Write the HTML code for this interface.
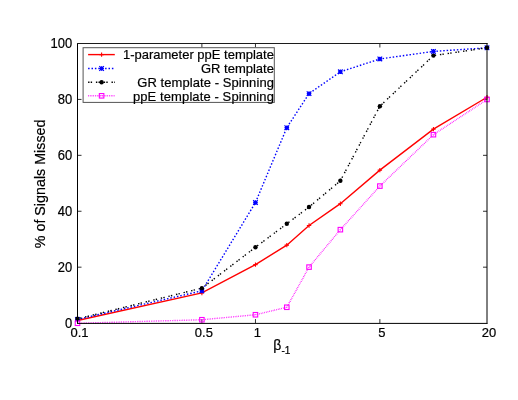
<!DOCTYPE html><html><head><meta charset="utf-8"><title>chart</title>
<style>html,body{margin:0;padding:0;background:#fff}svg{display:block;will-change:transform}text{font-family:"Liberation Sans",sans-serif;fill:#000;stroke:#000;stroke-width:0.2px}</style></head><body>
<svg width="518" height="400" viewBox="0 0 518 400">
<rect width="518" height="400" fill="#fff"/>
<path d="M201.89 323.1V319.1M201.89 43.5V47.5M255.46 323.1V319.1M255.46 43.5V47.5M379.86 323.1V319.1M379.86 43.5V47.5M77.5 267.18H81.5M487.0 267.18H483.0M77.5 211.26H81.5M487.0 211.26H483.0M77.5 155.34H81.5M487.0 155.34H483.0M77.5 99.42H81.5M487.0 99.42H483.0" stroke="#1a1a1a" stroke-width="0.9" fill="none"/>
<polyline points="77.50,320.48 201.89,292.96 255.46,264.60 286.80,245.15 309.04,225.48 340.37,203.69 379.86,170.16 433.43,129.09 487.00,97.24" fill="none" stroke="#ff0000" stroke-width="1.4"/>
<polyline points="77.50,319.36 201.89,290.86 255.46,202.57 286.80,127.69 309.04,93.60 340.37,71.81 379.86,58.96 433.43,51.41 487.00,47.78" fill="none" stroke="#0000ff" stroke-width="1.4" stroke-dasharray="1.5 1.9"/>
<polyline points="77.50,318.80 201.89,288.15 255.46,247.27 286.80,223.80 309.04,207.04 340.37,180.78 379.86,106.18 433.43,55.61 487.00,47.78" fill="none" stroke="#000000" stroke-width="1.4" stroke-dasharray="1.4 1.2 1.4 3.8"/>
<polyline points="77.50,323.27 201.89,319.75 255.46,314.75 286.80,307.26 309.04,267.11 340.37,229.67 379.86,186.09 433.43,134.68 487.00,99.47" fill="none" stroke="#ff00ff" stroke-width="1.4" stroke-dasharray="0.7 1.05"/>
<path d="M75.30 320.48H79.70M77.50 318.28V322.68" stroke="#ff0000" stroke-width="1.1" fill="none"/>
<path d="M199.69 292.96H204.09M201.89 290.76V295.16" stroke="#ff0000" stroke-width="1.1" fill="none"/>
<path d="M253.26 264.60H257.66M255.46 262.40V266.80" stroke="#ff0000" stroke-width="1.1" fill="none"/>
<path d="M284.60 245.15H289.00M286.80 242.95V247.35" stroke="#ff0000" stroke-width="1.1" fill="none"/>
<path d="M306.84 225.48H311.24M309.04 223.28V227.68" stroke="#ff0000" stroke-width="1.1" fill="none"/>
<path d="M338.17 203.69H342.57M340.37 201.49V205.89" stroke="#ff0000" stroke-width="1.1" fill="none"/>
<path d="M377.66 170.16H382.06M379.86 167.96V172.36" stroke="#ff0000" stroke-width="1.1" fill="none"/>
<path d="M431.23 129.09H435.63M433.43 126.89V131.29" stroke="#ff0000" stroke-width="1.1" fill="none"/>
<path d="M484.80 97.24H489.20M487.00 95.04V99.44" stroke="#ff0000" stroke-width="1.1" fill="none"/>
<path d="M75.20 319.36H79.80M77.50 317.06V321.66M75.20 317.06L79.80 321.66M75.20 321.66L79.80 317.06" stroke="#0000ff" stroke-width="1.2" fill="none"/><rect x="75.90" y="317.76" width="3.2" height="3.2" fill="#0000ff"/>
<path d="M199.59 290.86H204.19M201.89 288.56V293.16M199.59 288.56L204.19 293.16M199.59 293.16L204.19 288.56" stroke="#0000ff" stroke-width="1.2" fill="none"/><rect x="200.29" y="289.26" width="3.2" height="3.2" fill="#0000ff"/>
<path d="M253.16 202.57H257.76M255.46 200.27V204.87M253.16 200.27L257.76 204.87M253.16 204.87L257.76 200.27" stroke="#0000ff" stroke-width="1.2" fill="none"/><rect x="253.86" y="200.97" width="3.2" height="3.2" fill="#0000ff"/>
<path d="M284.50 127.69H289.10M286.80 125.39V129.99M284.50 125.39L289.10 129.99M284.50 129.99L289.10 125.39" stroke="#0000ff" stroke-width="1.2" fill="none"/><rect x="285.20" y="126.09" width="3.2" height="3.2" fill="#0000ff"/>
<path d="M306.74 93.60H311.34M309.04 91.30V95.90M306.74 91.30L311.34 95.90M306.74 95.90L311.34 91.30" stroke="#0000ff" stroke-width="1.2" fill="none"/><rect x="307.44" y="92.00" width="3.2" height="3.2" fill="#0000ff"/>
<path d="M338.07 71.81H342.67M340.37 69.51V74.11M338.07 69.51L342.67 74.11M338.07 74.11L342.67 69.51" stroke="#0000ff" stroke-width="1.2" fill="none"/><rect x="338.77" y="70.21" width="3.2" height="3.2" fill="#0000ff"/>
<path d="M377.56 58.96H382.16M379.86 56.66V61.26M377.56 56.66L382.16 61.26M377.56 61.26L382.16 56.66" stroke="#0000ff" stroke-width="1.2" fill="none"/><rect x="378.26" y="57.36" width="3.2" height="3.2" fill="#0000ff"/>
<path d="M431.13 51.41H435.73M433.43 49.11V53.71M431.13 49.11L435.73 53.71M431.13 53.71L435.73 49.11" stroke="#0000ff" stroke-width="1.2" fill="none"/><rect x="431.83" y="49.81" width="3.2" height="3.2" fill="#0000ff"/>
<path d="M484.70 47.78H489.30M487.00 45.48V50.08M484.70 45.48L489.30 50.08M484.70 50.08L489.30 45.48" stroke="#0000ff" stroke-width="1.2" fill="none"/><rect x="485.40" y="46.18" width="3.2" height="3.2" fill="#0000ff"/>
<circle cx="77.50" cy="318.80" r="2.2" fill="#000000"/>
<circle cx="201.89" cy="288.15" r="2.2" fill="#000000"/>
<circle cx="255.46" cy="247.27" r="2.2" fill="#000000"/>
<circle cx="286.80" cy="223.80" r="2.2" fill="#000000"/>
<circle cx="309.04" cy="207.04" r="2.2" fill="#000000"/>
<circle cx="340.37" cy="180.78" r="2.2" fill="#000000"/>
<circle cx="379.86" cy="106.18" r="2.2" fill="#000000"/>
<circle cx="433.43" cy="55.61" r="2.2" fill="#000000"/>
<circle cx="487.00" cy="47.78" r="2.2" fill="#000000"/>
<rect x="75.25" y="321.02" width="4.5" height="4.5" fill="none" stroke="#ff00ff" stroke-width="1.1"/><circle cx="77.50" cy="323.27" r="0.45" fill="#ff00ff"/>
<rect x="199.64" y="317.50" width="4.5" height="4.5" fill="none" stroke="#ff00ff" stroke-width="1.1"/><circle cx="201.89" cy="319.75" r="0.45" fill="#ff00ff"/>
<rect x="253.21" y="312.50" width="4.5" height="4.5" fill="none" stroke="#ff00ff" stroke-width="1.1"/><circle cx="255.46" cy="314.75" r="0.45" fill="#ff00ff"/>
<rect x="284.55" y="305.01" width="4.5" height="4.5" fill="none" stroke="#ff00ff" stroke-width="1.1"/><circle cx="286.80" cy="307.26" r="0.45" fill="#ff00ff"/>
<rect x="306.79" y="264.86" width="4.5" height="4.5" fill="none" stroke="#ff00ff" stroke-width="1.1"/><circle cx="309.04" cy="267.11" r="0.45" fill="#ff00ff"/>
<rect x="338.12" y="227.42" width="4.5" height="4.5" fill="none" stroke="#ff00ff" stroke-width="1.1"/><circle cx="340.37" cy="229.67" r="0.45" fill="#ff00ff"/>
<rect x="377.61" y="183.84" width="4.5" height="4.5" fill="none" stroke="#ff00ff" stroke-width="1.1"/><circle cx="379.86" cy="186.09" r="0.45" fill="#ff00ff"/>
<rect x="431.18" y="132.43" width="4.5" height="4.5" fill="none" stroke="#ff00ff" stroke-width="1.1"/><circle cx="433.43" cy="134.68" r="0.45" fill="#ff00ff"/>
<rect x="484.75" y="97.22" width="4.5" height="4.5" fill="none" stroke="#ff00ff" stroke-width="1.1"/><circle cx="487.00" cy="99.47" r="0.45" fill="#ff00ff"/>
<path d="M77.5 43.0V323.6" stroke="#000" stroke-width="1" fill="none"/>
<path d="M77.0 43.5H487.5" stroke="#1c1c1c" stroke-width="1" fill="none"/>
<path d="M77.0 323.40000000000003H487.5" stroke="#000" stroke-width="1.0" fill="none"/>
<path d="M487.0 43.0V323.70000000000005" stroke="#000" stroke-width="1.0" fill="none"/>
<text transform="translate(79.50,337.2) scale(1,1.05)" font-size="13" text-anchor="middle">0.1</text>
<text transform="translate(203.89,337.2) scale(1,1.05)" font-size="13" text-anchor="middle">0.5</text>
<text transform="translate(257.46,337.2) scale(1,1.05)" font-size="13" text-anchor="middle">1</text>
<text transform="translate(381.86,337.2) scale(1,1.05)" font-size="13" text-anchor="middle">5</text>
<text transform="translate(489.00,337.2) scale(1,1.05)" font-size="13" text-anchor="middle">20</text>
<text transform="translate(72.3,327.90) scale(1,1.055)" font-size="13" text-anchor="end">0</text>
<text transform="translate(72.3,271.98) scale(1,1.055)" font-size="13" text-anchor="end">20</text>
<text transform="translate(72.3,216.06) scale(1,1.055)" font-size="13" text-anchor="end">40</text>
<text transform="translate(72.3,160.14) scale(1,1.055)" font-size="13" text-anchor="end">60</text>
<text transform="translate(72.3,104.22) scale(1,1.055)" font-size="13" text-anchor="end">80</text>
<text transform="translate(72.3,48.30) scale(1,1.055)" font-size="13" text-anchor="end">100</text>
<text transform="translate(45.2,183.9) rotate(-90)" font-size="14.3" text-anchor="middle">% of Signals Missed</text>
<text x="273.2" y="350.4" font-size="14">β</text><text x="281.4" y="353.7" font-size="10">-1</text>
<rect x="83.1" y="47.7" width="191.20000000000002" height="54.7" fill="#fff" stroke="#555" stroke-width="1"/>
<path d="M88.1 54.6H114.8" fill="none" stroke="#ff0000" stroke-width="1.4"/>
<path d="M99.40 54.60H103.80M101.60 52.40V56.80" stroke="#ff0000" stroke-width="1.1" fill="none"/>
<text transform="translate(273.9,59.1) scale(1,1.035)" font-size="13" text-anchor="end">1-parameter ppE template</text>
<path d="M88.1 68.5H114.8" fill="none" stroke="#0000ff" stroke-width="1.4" stroke-dasharray="1.5 1.9"/>
<path d="M99.30 68.50H103.90M101.60 66.20V70.80M99.30 66.20L103.90 70.80M99.30 70.80L103.90 66.20" stroke="#0000ff" stroke-width="1.2" fill="none"/><rect x="100.00" y="66.90" width="3.2" height="3.2" fill="#0000ff"/>
<text transform="translate(273.9,72.9) scale(1,1.035)" font-size="13" text-anchor="end">GR template</text>
<path d="M88.1 82.2H114.8" fill="none" stroke="#000000" stroke-width="1.4" stroke-dasharray="1.4 1.2 1.4 3.8"/>
<circle cx="101.60" cy="82.20" r="2.2" fill="#000000"/>
<text transform="translate(273.9,86.7) scale(1,1.035)" font-size="13" text-anchor="end" textLength="136.7" lengthAdjust="spacing">GR template - Spinning</text>
<path d="M88.1 95.8H114.8" fill="none" stroke="#ff00ff" stroke-width="1.4" stroke-dasharray="0.7 1.05"/>
<rect x="99.35" y="93.55" width="4.5" height="4.5" fill="none" stroke="#ff00ff" stroke-width="1.1"/><circle cx="101.60" cy="95.80" r="0.45" fill="#ff00ff"/>
<text transform="translate(273.9,100.5) scale(1,1.035)" font-size="13" text-anchor="end" textLength="141.0" lengthAdjust="spacing">ppE template - Spinning</text>
</svg></body></html>
